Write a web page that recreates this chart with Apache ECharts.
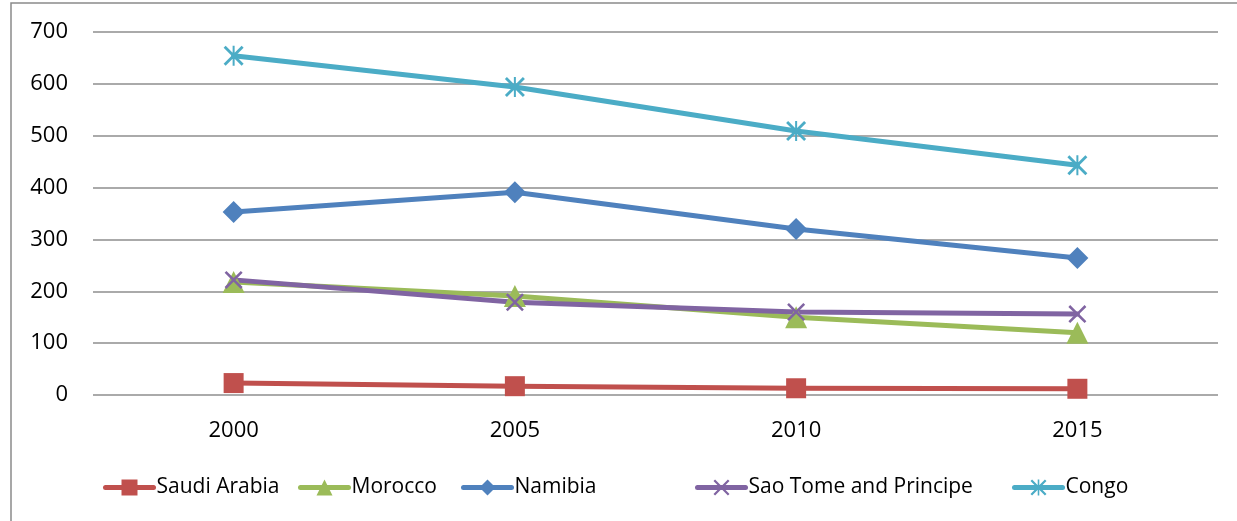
<!DOCTYPE html>
<html>
<head>
<meta charset="utf-8">
<script src="https://cdn.jsdelivr.net/npm/echarts@6/dist/echarts.min.js"></script>
<style>
  html, body { margin: 0; padding: 0; background: #ffffff; }
  #chart { width: 1237px; height: 521px; }
</style>
</head>
<body>
<div id="chart"></div>
<script>
// Years on the category axis
const years = ['2000', '2005', '2010', '2015'];

// Values per country
const saudiArabia = [23, 17, 13, 12];
const morocco = [218, 191, 150, 120];
const namibia = [353, 391, 320, 264];
const saoTome = [222, 179, 160, 156];
const congo = [654, 594, 509, 443];

// Value axis ticks
const yMin = 0;
const yMax = 700;
const yStep = 100;

// Marker shapes drawn as filled outlines
const crossPath = 'path://M0,2 L2,0 L10,8 L18,0 L20,2 L12,10 L20,18 L18,20 L10,12 L2,20 L0,18 L8,10 Z';
const starPath = 'path://M0,2 L2,0 L10,8 L18,0 L20,2 L12,10 L20,18 L18,20 L10,12 L2,20 L0,18 L8,10 Z M9,0 L11,0 L11,20 L9,20 Z';

const font = '"Open Sans", Lato, sans-serif';
const axisFontSize = 22;
const legendFontSize = 21;

function lineSeries(name, data, color, symbol, size) {
  return {
    name: name,
    type: 'line',
    data: data,
    symbol: symbol,
    symbolSize: size,
    showAllSymbol: true,
    lineStyle: { color: color, width: 5, cap: 'round', join: 'round' },
    itemStyle: { color: color },
    emphasis: { disabled: true },
    animation: false
  };
}

const series = [
  lineSeries('Saudi Arabia', saudiArabia, '#C0504D', 'rect', 20),
  lineSeries('Morocco', morocco, '#9BBB59', 'triangle', 22),
  lineSeries('Namibia', namibia, '#4F81BD', 'diamond', 22),
  lineSeries('Sao Tome and Principe', saoTome, '#8064A2', crossPath, 18),
  lineSeries('Congo', congo, '#4BACC6', starPath, 20)
];

// One legend entry per slot along the bottom row
const legendLeft = [103, 298, 461, 695, 1012];
const legends = series.map((s, i) => ({
  data: [s.name],
  left: legendLeft[i],
  top: 477,
  padding: 0,
  itemWidth: 48,
  itemHeight: 20,
  itemGap: 0,
  lineStyle: { width: 5, cap: 'round' },
  textStyle: { fontFamily: font, fontSize: legendFontSize, color: '#000', padding: [2, 0, 0, -2] },
  selectedMode: false
}));

const chart = echarts.init(document.getElementById('chart'), null, { renderer: 'canvas' });
chart.setOption({
  backgroundColor: '#ffffff',
  animation: false,
  graphic: [{
    type: 'rect',
    shape: { x: 11, y: 3, width: 1400, height: 700 },
    style: { fill: 'none', stroke: '#8a8a8a', lineWidth: 1.5 },
    silent: true,
    z: -1
  }],
  grid: { left: 93, right: 19, top: 32, bottom: 126 },
  legend: legends,
  xAxis: {
    type: 'category',
    data: years,
    boundaryGap: true,
    axisLine: { show: false },
    axisTick: { show: false },
    axisLabel: { fontFamily: font, fontSize: axisFontSize, color: '#000', margin: 25 }
  },
  yAxis: {
    type: 'value',
    min: yMin,
    max: yMax,
    interval: yStep,
    axisLine: { show: false },
    axisTick: { show: false },
    axisLabel: { fontFamily: font, fontSize: axisFontSize, color: '#000', margin: 25, padding: [2, 0, 0, 0] },
    splitLine: { lineStyle: { color: '#8e8e8e', width: 1.5 } }
  },
  series: series
});
</script>
</body>
</html>
